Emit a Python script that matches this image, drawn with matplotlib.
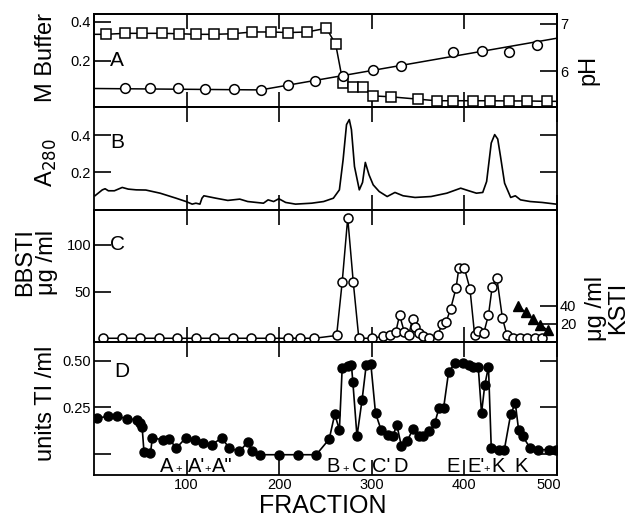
import matplotlib
matplotlib.use('Agg')
import matplotlib.pyplot as plt
from matplotlib.transforms import offset_copy

plt.rcParams['font.family'] = ['Liberation Sans', 'DejaVu Sans']
plt.rcParams['axes.linewidth'] = 1.3

# Panel A: buffer molarity (squares) and pH (circles)
buffer_frac = [0, 13, 33, 52, 73, 92, 110, 130, 150, 171, 191, 210, 230, 251, 261, 269,
               280, 290, 301, 321, 350, 370, 388, 409, 428, 448, 468, 489, 500]
buffer_M = [0.335, 0.335, 0.340, 0.340, 0.340, 0.338, 0.335, 0.335, 0.338, 0.347, 0.347,
            0.344, 0.347, 0.366, 0.284, 0.084, 0.063, 0.063, 0.020, 0.015, 0.003, -0.005,
            -0.005, -0.005, -0.005, -0.006, -0.006, -0.008, -0.008]
ph_frac = [33, 61, 91, 120, 151, 180, 210, 239, 269, 301, 331, 388, 419, 448, 478]
ph_val = [5.64, 5.64, 5.64, 5.62, 5.62, 5.61, 5.71, 5.79, 5.91, 6.04, 6.11, 6.41, 6.44,
          6.41, 6.56]
ph_fit_frac = [0, 180, 500]
ph_fit_val = [5.64, 5.61, 6.70]

# Panel B: absorbance trace
a280_frac = [1, 9, 12, 15.5, 22, 30.5, 37, 45.6, 56, 71.4, 88.6, 99.4, 106, 110, 114.4,
             116.6, 118.7, 131.6, 144.5, 157.4, 166, 183, 188, 194, 199.6, 207, 217.6, 235,
             248, 258.5, 265, 269, 272.7, 275.7, 278, 281.3, 286.5, 290, 293, 297, 301.5,
             308, 316.6, 325, 333.8, 346.7, 364, 381, 396, 404.7, 413, 419.8, 424, 429,
             432.7, 436, 439, 443.4, 450, 455, 460.6, 471, 484, 499]
a280_val = [0.074, 0.106, 0.112, 0.101, 0.101, 0.119, 0.110, 0.106, 0.105, 0.088, 0.061,
            0.043, 0.029, 0.034, 0.029, 0.061, 0.074, 0.061, 0.049, 0.056, 0.043, 0.034,
            0.052, 0.043, 0.058, 0.038, 0.029, 0.034, 0.043, 0.061, 0.106, 0.268, 0.458,
            0.485, 0.431, 0.232, 0.106, 0.146, 0.254, 0.187, 0.133, 0.097, 0.070, 0.092,
            0.074, 0.065, 0.070, 0.088, 0.115, 0.101, 0.088, 0.092, 0.151, 0.359, 0.404,
            0.380, 0.286, 0.142, 0.065, 0.074, 0.052, 0.043, 0.038, 0.029]

# Panel C: BBSTI (open circles) and KSTI (triangles)
bbsti_frac = [10, 30, 50, 70, 90, 110, 130, 150, 170, 190,
              210, 222, 238, 262, 268, 274, 280, 286, 300, 312,
              320, 326, 330, 335, 340, 344, 347, 351, 355, 362,
              371, 376, 380, 385, 391, 394, 400, 406, 411, 415,
              421, 426, 430, 435, 441, 446, 452, 460, 468, 476, 484]
bbsti_val = [0, 0, 0, 0, 0, 0, 0, 0, 0, 0,
             0, 0, 0, 3, 60, 129, 60, 0, 0, 2,
             4, 7, 25, 7, 4, 21, 12, 6, 2, 0,
             3, 15, 17, 31, 54, 75, 75, 53, 4, 8,
             6, 25, 55, 65, 22, 3, 0, 0, 0, 0, 0]
ksti_frac = [458, 466, 474, 482, 490]
ksti_val = [40, 33, 25, 19, 13]

# Panel D: trypsin inhibitor activity
ti_frac = [3, 15, 25, 36, 46, 50, 52, 54, 61, 63, 74, 81, 89, 99, 109, 118, 127, 138, 146,
           157, 166, 171, 179, 200, 220, 240, 254, 260, 265, 268, 274, 278, 279.5, 284,
           289.5, 294, 299, 304, 310, 317, 323, 327, 332, 338, 344.5, 351, 355, 362, 368,
           372.5, 377.5, 383, 390, 398, 405, 409, 415, 418.5, 422, 426, 429, 437, 443, 450,
           455, 458.5, 463, 471, 480, 491, 499]
ti_val = [0.193, 0.202, 0.202, 0.189, 0.184, 0.166, 0.143, 0.009, 0.005, 0.086, 0.077,
          0.080, 0.032, 0.086, 0.073, 0.059, 0.050, 0.086, 0.032, 0.014, 0.063, 0.014,
          -0.004, -0.004, -0.004, -0.004, 0.080, 0.214, 0.130, 0.460, 0.473, 0.479, 0.389,
          0.095, 0.291, 0.479, 0.482, 0.220, 0.130, 0.104, 0.098, 0.157, 0.041, 0.068,
          0.134, 0.095, 0.095, 0.121, 0.166, 0.246, 0.246, 0.443, 0.488, 0.491, 0.479,
          0.470, 0.465, 0.220, 0.370, 0.470, 0.032, 0.023, 0.020, 0.214, 0.273, 0.130,
          0.095, 0.032, 0.023, 0.023, 0.023]

peak_labels = ["A", "+", "A'", "+", "A\"", "B", "+", "C", "C'", "D", "E", "E'", "+", "K", "K"]
peak_pos = [78, 91, 111, 123, 139, 258, 272, 286, 310, 331, 388, 413, 424.5, 436, 461]

fig = plt.figure(figsize=(6.28, 5.18), dpi=100)
W, H = 628.0, 518.0
left, right = 94 / W, 557 / W


def panel(top_px, bot_px):
    return fig.add_axes([left, 1 - bot_px / H, right - left, (bot_px - top_px) / H])


axA = panel(14, 107)
axB = panel(107, 209.5)
axC = panel(209.5, 342)
axD = panel(342, 475)

tick_kw = dict(direction='in', width=1.2, labelsize=10.5, pad=2)
for ax in (axA, axB, axC, axD):
    ax.set_xlim(0, 500)
    ax.set_xticks([100, 200, 300, 400, 500])
    ax.tick_params(axis='x', top=True, bottom=True, length=11, labelbottom=False, **tick_kw)
    ax.tick_params(axis='y', left=True, right=True, length=12, **tick_kw)

# A
axA.plot(buffer_frac, buffer_M, '-', color='black', lw=1.1, marker='s', ms=6.5,
         mfc='white', mec='black', mew=1.1, markevery=list(range(1, len(buffer_frac) - 1)))
axA.set_ylim(-0.037, 0.439)
axA.set_yticks([0.2, 0.4])
axA.set_yticklabels(['0.2', '0.4'])
axA.tick_params(axis='y', right=False)
axA2 = axA.twinx()
axA2.plot(ph_fit_frac, ph_fit_val, '-', color='black', lw=1.1)
axA2.plot(ph_frac, ph_val, 'o', ms=7, mfc='white', mec='black', mew=1.1)
axA2.set_ylim(5.25, 7.21)
axA2.set_yticks([6, 7])
axA2.tick_params(axis='y', length=12, **tick_kw)
axA.text(25, 0.2, 'A', fontsize=15, va='center', ha='center')

# B
axB.plot(a280_frac, a280_val, '-', color='black', lw=1.2)
axB.set_ylim(0, 0.553)
axB.set_yticks([0.2, 0.4])
axB.set_yticklabels(['0.2', '0.4'])
axB.text(25, 0.36, 'B', fontsize=15, va='center', ha='center')

# C
axC.plot(bbsti_frac, bbsti_val, '-', color='black', lw=1.1, marker='o', ms=6.5,
         mfc='white', mec='black', mew=1.1)
axC.set_ylim(-4, 138)
axC.set_yticks([50, 100])
axC.tick_params(axis='y', right=False)
axC2 = axC.twinx()
axC2.plot(ksti_frac, ksti_val, '-', color='black', lw=1.1, marker='^', ms=7,
          mfc='black', mec='black')
axC2.set_ylim(0, 147)
axC2.set_yticks([20, 40])
axC2.tick_params(axis='y', length=12, **tick_kw)
axC.text(25, 100, 'C', fontsize=15, va='center', ha='center')

# D
axD.plot(ti_frac, ti_val, '-', color='black', lw=1.2, marker='o', ms=6.5,
         mfc='black', mec='black')
axD.set_ylim(-0.113, 0.602)
axD.set_yticks([0, 0.25, 0.50])
axD.set_yticklabels(['', '0.25', '0.50'])
axD.tick_params(axis='x', labelbottom=True)
fig.canvas.draw()
last = axD.get_xticklabels()[-1]
last.set_transform(offset_copy(last.get_transform(), fig=fig, x=-8, units='dots'))
axD.text(30, 0.446, 'D', fontsize=15, va='center', ha='center')
for lab, xp in zip(peak_labels, peak_pos):
    axD.text(xp, -0.097, lab, fontsize=8 if lab == '+' else 14.5, ha='center', va='baseline')

# axis titles
fig.text(46 / W, 1 - 57 / H, 'M Buffer', rotation=90, fontsize=17, ha='center', va='center')
fig.text(46 / W, 1 - 163 / H, 'A$_{280}$', rotation=90, fontsize=17, ha='center', va='center')
fig.text(36 / W, 1 - 262 / H, 'BBSTI\nμg /ml', rotation=90, fontsize=17, ha='center',
         va='center', linespacing=1.0)
fig.text(46 / W, 1 - 403 / H, 'units TI /ml', rotation=90, fontsize=17, ha='center',
         va='center')
fig.text(588 / W, 1 - 70 / H, 'pH', rotation=90, fontsize=17, ha='center', va='center')
fig.text(607 / W, 1 - 308 / H, 'μg /ml\nKSTI', rotation=90, fontsize=17, ha='center',
         va='center', linespacing=1.0)
fig.text(323 / W, 1 - 506 / H, 'FRACTION', fontsize=18, ha='center', va='center')

fig.savefig('out.png', dpi=100)
